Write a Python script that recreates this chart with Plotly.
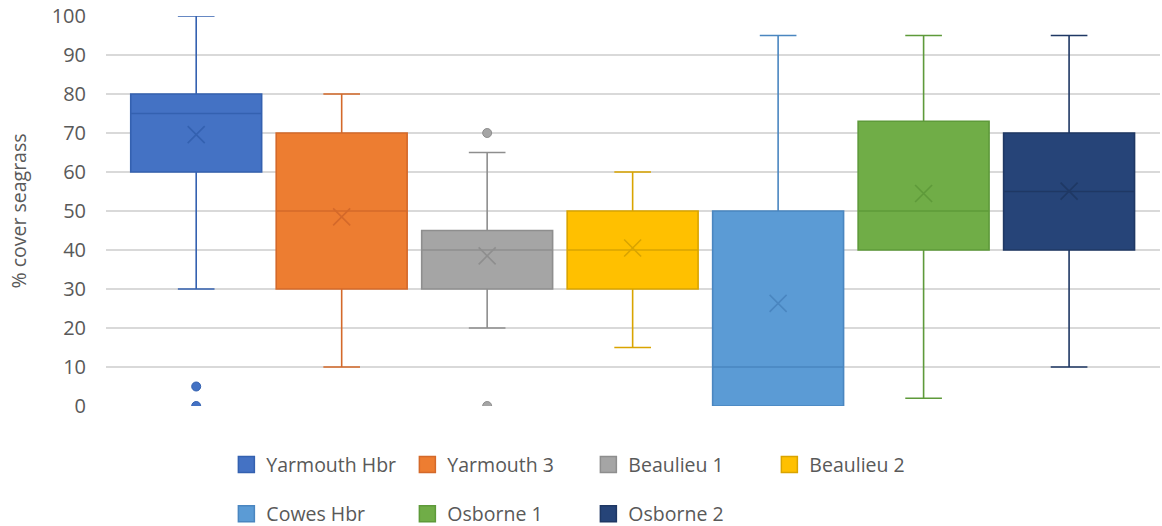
import plotly.graph_objects as go

# Seagrass cover survey summary per site (percent cover)
sites = ["Yarmouth Hbr", "Yarmouth 3", "Beaulieu 1", "Beaulieu 2",
         "Cowes Hbr", "Osborne 1", "Osborne 2"]
lower_whisker = [30, 10, 20, 15, 0, 2, 10]
q1 = [60, 30, 30, 30, 0, 40, 40]
median = [75, 50, 40, 40, 10, 50, 55]
q3 = [80, 70, 45, 50, 50, 73, 70]
upper_whisker = [100, 80, 65, 60, 95, 95, 95]
mean = [69.6, 48.5, 38.5, 40.5, 26.3, 54.5, 55.1]
outliers = [[5, 0], [], [70, 0], [], [], [], []]

fill_colors = ["#4472C4", "#ED7D31", "#A5A5A5", "#FFC000",
               "#5B9BD5", "#70AD47", "#264478"]
line_colors = ["#3461B0", "#D4692A", "#8E8E8E", "#D9A400",
               "#4A86C0", "#5E9A3A", "#1F3864"]

FONT = "Open Sans, Noto Sans, sans-serif"
TEXT = "#595959"

fig = go.Figure()

for i, name in enumerate(sites):
    fig.add_trace(go.Box(
        x=[i], q1=[q1[i]], median=[median[i]], q3=[q3[i]],
        lowerfence=[lower_whisker[i]], upperfence=[upper_whisker[i]],
        name=name, width=0.9, whiskerwidth=0.28,
        fillcolor=fill_colors[i],
        line=dict(color=line_colors[i], width=1.6),
        boxpoints=False, showlegend=False, hoverinfo="skip",
    ))
    # mean marker
    fig.add_trace(go.Scatter(
        x=[i], y=[mean[i]], mode="markers", showlegend=False,
        marker=dict(symbol="x-thin", size=17,
                    line=dict(color=line_colors[i], width=1.6)),
        hoverinfo="skip",
    ))
    # outlier points
    if outliers[i]:
        fig.add_trace(go.Scatter(
            x=[i] * len(outliers[i]), y=outliers[i], mode="markers",
            showlegend=False, cliponaxis=True,
            marker=dict(symbol="circle", size=9, color=fill_colors[i],
                        line=dict(color=line_colors[i], width=1)),
            hoverinfo="skip",
        ))

# legend entries: first row of four, second row of three
for i, name in enumerate(sites):
    fig.add_trace(go.Scatter(
        x=[None], y=[None], mode="markers", name=name,
        legend="legend" if i < 4 else "legend2",
        marker=dict(symbol="square", size=20, color=fill_colors[i],
                    line=dict(color=line_colors[i], width=1.5)),
    ))

legend_common = dict(
    orientation="h", xanchor="left", yanchor="middle",
    entrywidth=136, entrywidthmode="pixels",
    itemsizing="trace", traceorder="normal",
    font=dict(family=FONT, size=19.5, color=TEXT),
    bgcolor="rgba(0,0,0,0)",
)

fig.update_layout(
    width=1162, height=526,
    margin=dict(l=106, r=2, t=16, b=120, autoexpand=False),
    paper_bgcolor="white", plot_bgcolor="white",
    font=dict(family=FONT, color=TEXT),
    boxmode="overlay",
    legend=dict(x=0.1142, y=-0.151, **legend_common),
    legend2=dict(x=0.1142, y=-0.277, **legend_common),
    xaxis=dict(range=[-0.62, 6.625], showticklabels=False, showgrid=False,
               zeroline=False, showline=False, ticks=""),
    yaxis=dict(range=[0, 100], dtick=10, tick0=0,
               showgrid=True, gridcolor="#D9D9D9", gridwidth=1.5,
               zeroline=False, showline=False, ticks="",
               ticklabelstandoff=19,
               tickfont=dict(family=FONT, size=20, color=TEXT),
               title=dict(text="% cover seagrass", standoff=19,
                          font=dict(family=FONT, size=19.5, color=TEXT))),
)

fig.write_html("out.html")
